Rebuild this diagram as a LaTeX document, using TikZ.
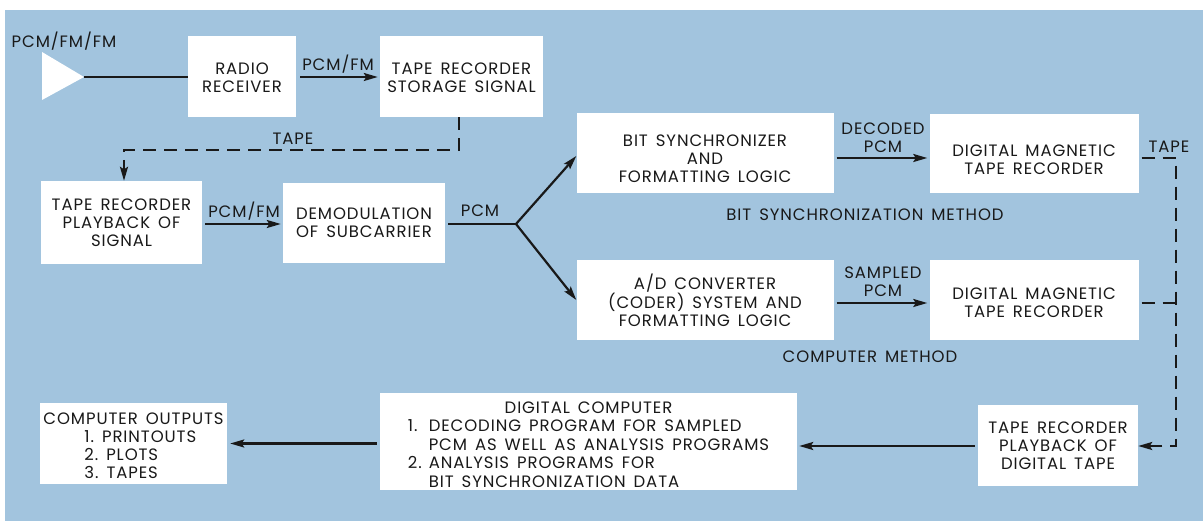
\documentclass[tikz,border=0pt]{standalone}
\usepackage{fontspec}
\setmainfont[LetterSpace=5.5,WordSpace=1.5]{Poppins}
\usetikzlibrary{arrows.meta,positioning}
\definecolor{bgblue}{RGB}{162,196,222}
\definecolor{ink}{RGB}{25,25,25}
\begin{document}
\begin{tikzpicture}[x=1pt,y=-1pt,
  font=\fontsize{16.5}{18}\selectfont,
  box/.style={draw=none,fill=white,inner sep=0pt},
  lbl/.style={inner sep=0pt,align=center,text=ink},
  conn/.style={draw=ink,line width=2.2pt},
  arr/.style={conn,-{Stealth[length=14pt,width=8pt,inset=2.5pt]}},
  tapeline/.style={draw=ink,line width=2.2pt,dash pattern=on 13pt off 8pt}]
\useasboundingbox (0,0) rectangle (1203,521);
\fill[white] (0,0) rectangle (1203,521);
\fill[bgblue] (5,10) rectangle (1203,521);
% boxes
\node[box,minimum width=108pt,minimum height=81pt] (radio) at (242,76.5) {};
\node[box,minimum width=163pt,minimum height=81pt] (storage) at (461.5,76.5) {};
\node[box,minimum width=161pt,minimum height=83pt] (playback) at (121.5,222.5) {};
\node[box,minimum width=162pt,minimum height=80pt] (demod) at (364,223) {};
\node[box,minimum width=257pt,minimum height=80pt] (bitsync) at (705,153) {};
\node[box,minimum width=209pt,minimum height=79pt] (dmt1) at (1034,154) {};
\node[box,minimum width=257pt,minimum height=80pt] (adc) at (705,300) {};
\node[box,minimum width=209pt,minimum height=80pt] (dmt2) at (1034,300) {};
\node[box,minimum width=417pt,minimum height=97pt] (dcomp) at (588.5,441.5) {};
\node[box,minimum width=187pt,minimum height=81pt] (outputs) at (133.5,443.5) {};
\node[box,minimum width=160pt,minimum height=81pt] (playdig) at (1058,445.5) {};
% box texts
\node[lbl] (tradio) at ([yshift=-1pt]radio.center) {RADIO\\RECEIVER};
\node[lbl] (tstorage) at ([yshift=-1pt]storage.center) {TAPE RECORDER\\STORAGE SIGNAL};
\node[lbl] (tplayback) at (playback.center) {TAPE RECORDER\\PLAYBACK OF\\SIGNAL};
\node[lbl] (tdemod) at (demod.center) {DEMODULATION\\OF SUBCARRIER};
\node[lbl] (tbitsync) at ([yshift=-6pt]bitsync.center) {BIT SYNCHRONIZER\\AND\\FORMATTING LOGIC};
\node[lbl] (tdmt1) at ([yshift=-6pt]dmt1.center) {DIGITAL MAGNETIC\\TAPE RECORDER};
\node[lbl] (tadc) at (adc.center) {A/D CONVERTER\\(CODER) SYSTEM AND\\FORMATTING LOGIC};
\node[lbl] (tdmt2) at ([yshift=-3pt]dmt2.center) {DIGITAL MAGNETIC\\TAPE RECORDER};
\node[lbl] (tdcomp) at ([yshift=-5pt]dcomp.center) {\fontsize{16.5}{18.6}\selectfont\begin{tabular}{@{}l@{\hspace{7pt}}l@{}}
\multicolumn{2}{c}{DIGITAL COMPUTER}\\
1. & DECODING PROGRAM FOR SAMPLED\\
   & PCM AS WELL AS ANALYSIS PROGRAMS\\
2. & ANALYSIS PROGRAMS FOR\\
   & BIT SYNCHRONIZATION DATA
\end{tabular}};
\node[lbl] (toutputs) at ([yshift=-4pt]outputs.center) {\begin{tabular}{@{}l@{}}
COMPUTER OUTPUTS\\
\hspace{41pt}1.\hspace{8pt}PRINTOUTS\\
\hspace{41pt}2.\hspace{8pt}PLOTS\\
\hspace{41pt}3.\hspace{8pt}TAPES
\end{tabular}};
\node[lbl] (tplaydig) at (playdig.center) {TAPE RECORDER\\PLAYBACK OF\\DIGITAL TAPE};
% antenna triangle
\node[lbl] (inlbl) at (64,41) {PCM/FM/FM};
\fill[white] (42,52) -- (84,77) -- (42,100) -- cycle;
\coordinate (tip) at (84,77);
% labels
\node[lbl] (l1) at (338,64) {PCM/FM};
\node[lbl] (l2) at (293,139) {TAPE};
\node[lbl] (l3) at (244,211) {PCM/FM};
\node[lbl] (l4) at (480,211) {PCM};
\node[lbl] (l5) at (883,138) {DECODED\\PCM};
\node[lbl] (l6) at (883,282) {SAMPLED\\PCM};
\node[lbl] (l7) at (1169,147) {TAPE};
\node[lbl] (l8) at (865,215) {BIT SYNCHRONIZATION METHOD};
\node[lbl] (l9) at (870,357) {COMPUTER METHOD};
% connectors
\draw[conn] (tip) -- (radio.west |- tip);
\draw[arr,shorten <=4pt,shorten >=2pt] (radio.east |- tip) -- (storage.west |- tip);
\coordinate (s1) at (459,150);
\coordinate (s2) at (124,150);
\draw[tapeline] (storage.south -| s1) -- (s1) -- (s2) -- (s2 |- playback.north);
\draw[arr] (s2) ++(0,10) -- (s2 |- playback.north);
\coordinate (split) at (516,224);
\draw[arr,shorten <=3pt,shorten >=2pt] (playback.east |- split) -- (demod.west |- split);
\draw[conn,shorten <=3pt] (demod.east |- split) -- (split);
\draw[arr] (split) -- ([yshift=-3pt]bitsync.west);
\draw[arr] (split) -- (adc.west);
\coordinate (r1) at (1176,158);
\coordinate (r3) at (1176,303);
\coordinate (r2) at (1176,446);
\draw[arr,shorten <=3pt,shorten >=2pt] (bitsync.east |- r1) -- (dmt1.west |- r1);
\draw[arr,shorten <=3pt,shorten >=2pt] (adc.east |- r3) -- (dmt2.west |- r3);
\draw[tapeline,shorten <=3pt] (dmt1.east |- r1) -- (r1) -- (r2) -- ([xshift=14pt]playdig.east |- r2);
\draw[tapeline,shorten <=3pt] (dmt2.east |- r3) -- (r3);
\draw[arr] ([xshift=14pt]playdig.east |- r2) -- (playdig.east |- r2);
\draw[arr,shorten <=3pt,shorten >=2pt] (playdig.west |- r2) -- (dcomp.east |- r2);
\draw[arr,shorten <=3pt,shorten >=3pt] (dcomp.west |- outputs) -- (outputs);
\end{tikzpicture}
\end{document}
